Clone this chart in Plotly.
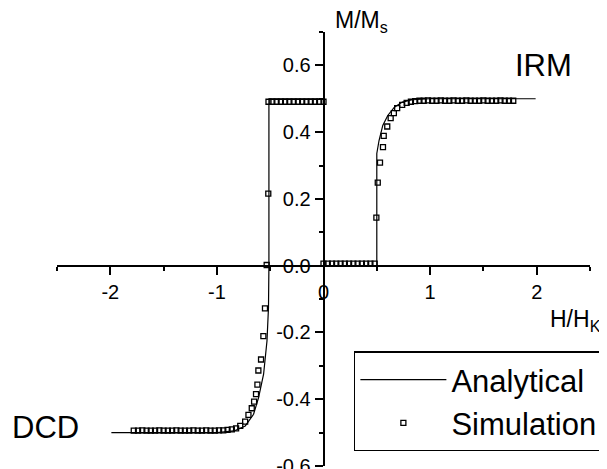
import plotly.graph_objects as go

# ---- Analytical curves (H/H_K, M/M_s) ----
irm_an_h = [0.0, 0.5, 0.5, 0.5, 0.521, 0.556, 0.603, 0.665, 0.74, 0.834, 1.0, 1.99]
irm_an_m = [0.0, 0.0, 0.2, 0.336, 0.375, 0.42, 0.45, 0.475, 0.49, 0.497, 0.5, 0.5]

dcd_an_h = [0.0, -0.512, -0.512, -0.516, -0.53, -0.562, -0.609, -0.656, -0.734, -0.84, -1.0, -1.99]
dcd_an_m = [0.5, 0.5, 0.0, -0.125, -0.225, -0.325, -0.395, -0.445, -0.48, -0.495, -0.5, -0.5]

# ---- Simulation points ----
irm_sim_h = [0.0, 0.04, 0.08, 0.12, 0.16, 0.2, 0.24, 0.28, 0.32, 0.36, 0.4, 0.44, 0.48,
             0.496, 0.509, 0.53, 0.558, 0.565, 0.598, 0.63, 0.66, 0.691, 0.738,
             0.78, 0.82, 0.86, 0.9, 0.94, 0.98, 1.02, 1.06, 1.1, 1.14, 1.18, 1.22, 1.26,
             1.3, 1.34, 1.38, 1.42, 1.46, 1.5, 1.54, 1.58, 1.62, 1.66, 1.7, 1.74, 1.78]
irm_sim_m = [0.006, 0.006, 0.006, 0.006, 0.006, 0.006, 0.006, 0.006, 0.006, 0.006, 0.006, 0.006, 0.006,
             0.144, 0.249, 0.309, 0.355, 0.389, 0.417, 0.442, 0.457, 0.472, 0.482,
             0.488, 0.491, 0.493, 0.494, 0.494, 0.495, 0.494, 0.494, 0.495, 0.494, 0.494, 0.495, 0.494,
             0.494, 0.495, 0.494, 0.494, 0.494, 0.495, 0.494, 0.494, 0.494, 0.495, 0.494, 0.494, 0.494]

dcd_sim_h = [0.0, -0.04, -0.08, -0.12, -0.16, -0.2, -0.24, -0.28, -0.32, -0.36, -0.4, -0.44, -0.48, -0.516,
             -0.518, -0.533, -0.549, -0.564, -0.586, -0.611, -0.62, -0.633, -0.651, -0.673, -0.704, -0.735, -0.781,
             -0.82, -0.86, -0.9, -0.94, -0.98, -1.02, -1.06, -1.1, -1.14, -1.18, -1.22, -1.26, -1.3,
             -1.34, -1.38, -1.42, -1.46, -1.5, -1.54, -1.58, -1.62, -1.66, -1.7, -1.74, -1.78]
dcd_sim_m = [0.491, 0.491, 0.491, 0.491, 0.491, 0.491, 0.491, 0.491, 0.491, 0.491, 0.491, 0.491, 0.491, 0.491,
             0.216, 0.002, -0.128, -0.211, -0.281, -0.314, -0.356, -0.385, -0.407, -0.427, -0.447, -0.467, -0.48,
             -0.487, -0.49, -0.492, -0.493, -0.493, -0.494, -0.494, -0.493, -0.494, -0.494, -0.493, -0.494, -0.494,
             -0.494, -0.493, -0.494, -0.494, -0.494, -0.493, -0.494, -0.494, -0.494, -0.493, -0.494, -0.494]

# ---- Tick labels ----
x_tickvals = [-2, -1, 0, 1, 2]
x_ticktext = ["-2", "-1", "0", "1", "2"]
x_minorvals = [-2.5, -1.5, -0.5, 0.5, 1.5, 2.5]
y_tickvals = [-0.6, -0.4, -0.2, 0.0, 0.2, 0.4, 0.6]
y_ticktext = ["-0.6", "-0.4", "-0.2", "0.0", "0.2", "0.4", "0.6"]
y_minorvals = [-0.5, -0.3, -0.1, 0.1, 0.3, 0.5, 0.7]

FONT = "Liberation Sans, Arial, sans-serif"

fig = go.Figure()
fig.add_trace(go.Scatter(
    x=irm_an_h + [None] + dcd_an_h,
    y=irm_an_m + [None] + dcd_an_m,
    mode="lines", name="Analytical",
    line=dict(color="black", width=1.2),
))
fig.add_trace(go.Scatter(
    x=irm_sim_h + [None] + dcd_sim_h,
    y=irm_sim_m + [None] + dcd_sim_m,
    mode="markers", name="Simulation",
    marker=dict(symbol="square-open", size=5, color="black", line=dict(width=1.3, color="black")),
))

xr = [-2.5, 2.5]
yr = [-0.6, 0.7]

# the page body adds an 8px offset, so the figure is sized to fill the remaining window
fig.update_layout(
    width=599, height=461,
    margin=dict(l=49, r=17, t=24, b=3, autoexpand=False),
    paper_bgcolor="white", plot_bgcolor="white",
    font=dict(family=FONT, color="black", size=20),
    xaxis=dict(
        range=xr, showgrid=False, zeroline=False, showline=True,
        linecolor="black", linewidth=1.8,
        anchor="free", position=(0 - yr[0]) / (yr[1] - yr[0]),
        tickmode="array", tickvals=x_tickvals, ticktext=x_ticktext,
        ticks="outside", ticklen=8, tickwidth=1.5, tickcolor="black",
        tickfont=dict(size=20, family=FONT), ticklabeloverflow="allow",
        minor=dict(tickmode="array", tickvals=x_minorvals, ticks="outside",
                   ticklen=4, tickwidth=1.5, tickcolor="black"),
    ),
    yaxis=dict(
        range=yr, showgrid=False, zeroline=False, showline=True,
        linecolor="black", linewidth=1.8,
        anchor="free", position=(0 - xr[0]) / (xr[1] - xr[0]),
        tickmode="array", tickvals=y_tickvals, ticktext=y_ticktext,
        ticks="outside", ticklen=8, tickwidth=1.5, tickcolor="black",
        tickfont=dict(size=20, family=FONT), ticklabeloverflow="allow",
        minor=dict(tickmode="array", tickvals=y_minorvals, ticks="outside",
                   ticklen=4, tickwidth=1.5, tickcolor="black"),
    ),
    legend=dict(
        x=0.557, y=0.264, xanchor="left", yanchor="top",
        bordercolor="black", borderwidth=1.5, bgcolor="white",
        font=dict(size=31, family=FONT), itemwidth=86,
    ),
    annotations=[
        dict(text="M/M<sub>s</sub>", xref="paper", yref="paper", x=0.518, y=1.024,
             xanchor="left", yanchor="middle", showarrow=False, font=dict(size=23, family=FONT)),
        dict(text="H/H<sub>K</sub>", xref="paper", yref="paper", x=0.921, y=0.336,
             xanchor="left", yanchor="middle", showarrow=False, font=dict(size=23, family=FONT)),
        dict(text="IRM", xref="paper", yref="paper", x=0.856, y=0.922,
             xanchor="left", yanchor="middle", showarrow=False, font=dict(size=31, family=FONT)),
        dict(text="DCD", xref="paper", yref="paper", x=-0.088, y=0.088,
             xanchor="left", yanchor="middle", showarrow=False, font=dict(size=31, family=FONT)),
    ],
)

fig.write_html("out.html")
